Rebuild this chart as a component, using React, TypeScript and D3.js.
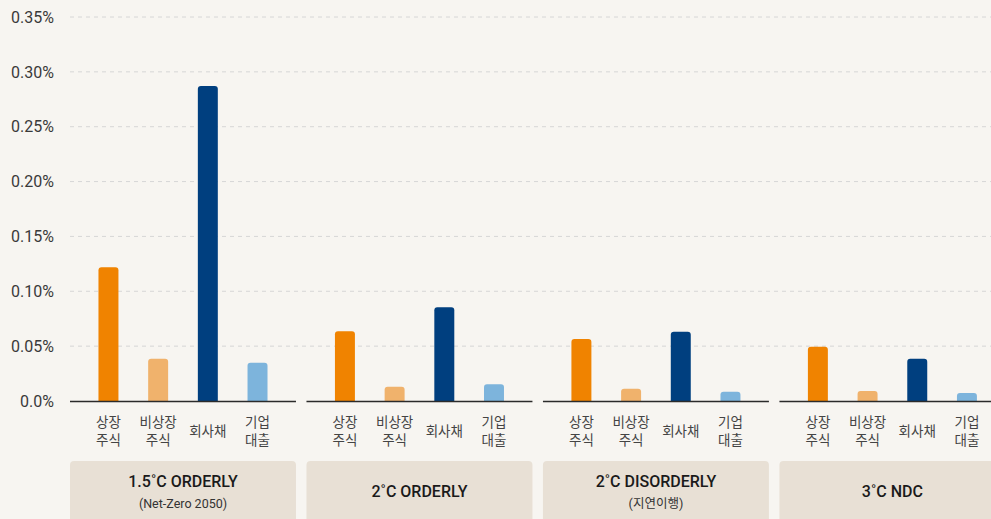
import * as React from "react";
import * as d3 from "d3";

// scenarios and asset classes
const scenarios = ["1.5˚C ORDERLY", "2˚C ORDERLY", "2˚C DISORDERLY", "3˚C NDC"];
const scenarioSubs = ["(Net-Zero 2050)", "", "(지연이행)", ""];
const assets = ["상장주식", "비상장주식", "회사채", "기업대출"];
const assetLabels = [["상장", "주식"], ["비상장", "주식"], ["회사채"], ["기업", "대출"]];
const assetColors = ["#F08300", "#F0B26C", "#003F7F", "#7DB4DC"];

// values in %, one array per asset class (index = scenario)
const listedEquity = [0.122, 0.0635, 0.0565, 0.0495];
const unlistedEquity = [0.0386, 0.013, 0.0112, 0.0091];
const corporateBonds = [0.287, 0.0854, 0.0632, 0.0386];
const corporateLoans = [0.0349, 0.0152, 0.0085, 0.0073];
const seriesValues = [listedEquity, unlistedEquity, corporateBonds, corporateLoans];

const yTicks = [0, 0.05, 0.1, 0.15, 0.2, 0.25, 0.3, 0.35];
const yTickLabels = ["0.0%", "0.05%", "0.10%", "0.15%", "0.20%", "0.25%", "0.30%", "0.35%"];

const W = 991;
const H = 519;
const LATIN = "Roboto, 'Noto Sans CJK KR', sans-serif";
const KR = "'Noto Sans CJK KR', 'Noto Sans', sans-serif";

function topRoundedBar(x: number, y: number, w: number, h: number, r: number) {
  const rr = Math.min(r, h, w / 2);
  const p = d3.path();
  p.moveTo(x, y + h);
  p.lineTo(x, y + rr);
  p.quadraticCurveTo(x, y, x + rr, y);
  p.lineTo(x + w - rr, y);
  p.quadraticCurveTo(x + w, y, x + w, y + rr);
  p.lineTo(x + w, y + h);
  p.closePath();
  return p.toString();
}

export default function App() {
  const y = d3.scaleLinear().domain([0, 0.35]).range([401, 17]);
  // panel width ~226, step ~236.5
  const xGroup = d3.scaleBand().domain(scenarios).range([70, 1005.4]).paddingInner(0.0444).paddingOuter(0);
  const xAsset = d3
    .scaleBand()
    .domain(assets)
    .range([0, xGroup.bandwidth()])
    .paddingInner(0.598)
    .paddingOuter(0.573);

  return (
    <svg
      width={W}
      height={H}
      style={{ position: "absolute", left: 0, top: 0, background: "#F7F5F1" }}
    >
      <rect width={W} height={H} fill="#F7F5F1" />
      {/* gridlines */}
      {yTicks.slice(1).map((t) => (
        <line
          key={t}
          x1={70}
          x2={W}
          y1={y(t)}
          y2={y(t)}
          stroke="#D6D6D6"
          strokeWidth={1}
          strokeDasharray="4,4"
        />
      ))}
      {/* y tick labels */}
      {yTicks.map((t, i) => (
        <text
          key={t}
          x={54}
          y={y(t)}
          dy="0.36em"
          textAnchor="end"
          fontFamily={LATIN}
          fontSize={16}
          fill="#3A3A3A"
        >
          {yTickLabels[i]}
        </text>
      ))}
      {scenarios.map((s, gi) => {
        const gx = xGroup(s) as number;
        const bw = xGroup.bandwidth();
        return (
          <g key={s} transform={`translate(${gx},0)`}>
            {assets.map((a, ai) => {
              const v = seriesValues[ai][gi];
              const bx = xAsset(a) as number;
              return (
                <path
                  key={a}
                  d={topRoundedBar(bx, y(v), xAsset.bandwidth(), y(0) - y(v), 3)}
                  fill={assetColors[ai]}
                />
              );
            })}
            <line x1={0} x2={bw} y1={y(0) + 0.5} y2={y(0) + 0.5} stroke="#2B2B2B" strokeWidth={1.5} />
            {assets.map((a, ai) => {
              const cx = (xAsset(a) as number) + xAsset.bandwidth() / 2;
              const lines = assetLabels[ai];
              return (
                <text
                  key={a}
                  textAnchor="middle"
                  fontFamily={KR}
                  fontSize={13.5}
                  fill="#444"
                >
                  {lines.map((ln, li) => (
                    <tspan
                      key={li}
                      x={cx}
                      y={lines.length === 1 ? 431 : 422 + li * 18.5}
                      dy="0.35em"
                    >
                      {ln}
                    </tspan>
                  ))}
                </text>
              );
            })}
            <rect x={0} y={461} width={bw} height={80} rx={4} fill="#E8E0D5" />
            <text
              x={bw / 2}
              y={scenarioSubs[gi] ? 481 : 491}
              dy="0.36em"
              textAnchor="middle"
              fontFamily={LATIN}
              fontSize={16}
              fontWeight={500}
              fill="#1A1A1A"
            >
              {s}
            </text>
            {scenarioSubs[gi] && (
              <text
                x={bw / 2}
                y={503}
                dy="0.36em"
                textAnchor="middle"
                fontFamily={LATIN}
                fontSize={12.5}
                fill="#333"
              >
                {scenarioSubs[gi]}
              </text>
            )}
          </g>
        );
      })}
    </svg>
  );
}
